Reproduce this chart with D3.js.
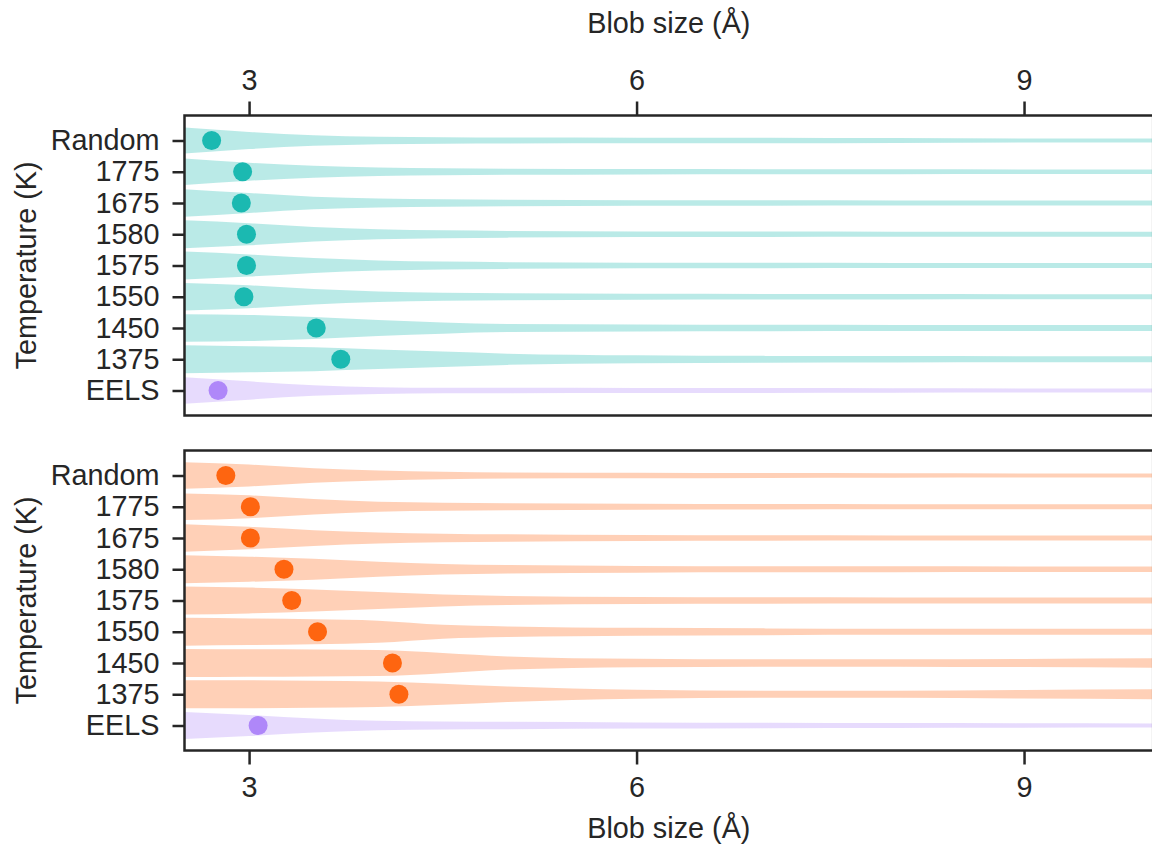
<!DOCTYPE html>
<html>
<head>
<meta charset="utf-8">
<script src="https://cdn.jsdelivr.net/npm/d3@7/dist/d3.min.js"></script>
<style>
  html, body { margin: 0; padding: 0; background: #fff; }
  svg { display: block; font-family: "Liberation Sans", Arial, Helvetica, sans-serif; }
  .tick text { fill: #262626; }
</style>
</head>
<body>
<svg id="chart" width="1152" height="846"></svg>
<script>
// Row labels, top to bottom
const categories = ["Random", "1775", "1675", "1580", "1575", "1550", "1450", "1375", "EELS"];

// Blob-size grid (Å) on which the density profiles are sampled
const sizeGrid = [2.5, 3.0, 3.5, 4.0, 4.5, 5.0, 6.0, 7.0, 8.0, 9.0, 10.0];

// Relative violin half-widths (1 = full slot) per row, upper panel
const densityUpper = [
  [0.93, 0.61, 0.38, 0.26, 0.23, 0.21, 0.20, 0.19, 0.17, 0.15, 0.14],
  [0.95, 0.64, 0.42, 0.30, 0.25, 0.22, 0.19, 0.18, 0.17, 0.16, 0.16],
  [0.98, 0.71, 0.45, 0.32, 0.26, 0.23, 0.20, 0.19, 0.18, 0.17, 0.17],
  [0.99, 0.79, 0.52, 0.36, 0.28, 0.24, 0.20, 0.19, 0.18, 0.17, 0.17],
  [0.99, 0.79, 0.53, 0.36, 0.28, 0.24, 0.20, 0.19, 0.18, 0.17, 0.17],
  [0.98, 0.81, 0.55, 0.38, 0.29, 0.25, 0.21, 0.20, 0.19, 0.18, 0.18],
  [0.98, 0.93, 0.78, 0.57, 0.40, 0.29, 0.25, 0.23, 0.22, 0.22, 0.22],
  [0.99, 0.93, 0.85, 0.70, 0.55, 0.40, 0.28, 0.24, 0.23, 0.22, 0.22],
  [0.94, 0.65, 0.38, 0.24, 0.20, 0.19, 0.18, 0.17, 0.16, 0.15, 0.14]
];

// Relative violin half-widths per row, lower panel
const densityLower = [
  [0.95, 0.78, 0.52, 0.36, 0.26, 0.21, 0.19, 0.17, 0.16, 0.15, 0.15],
  [0.95, 0.81, 0.55, 0.36, 0.29, 0.25, 0.21, 0.19, 0.18, 0.17, 0.17],
  [0.98, 0.80, 0.56, 0.39, 0.31, 0.26, 0.21, 0.19, 0.18, 0.17, 0.17],
  [1.00, 0.89, 0.74, 0.54, 0.38, 0.30, 0.24, 0.22, 0.21, 0.20, 0.20],
  [1.00, 0.92, 0.78, 0.60, 0.42, 0.32, 0.25, 0.23, 0.22, 0.21, 0.21],
  [1.00, 0.95, 0.89, 0.79, 0.50, 0.38, 0.28, 0.24, 0.22, 0.21, 0.21],
  [1.00, 0.98, 0.96, 0.93, 0.72, 0.47, 0.30, 0.26, 0.26, 0.29, 0.33],
  [1.00, 0.99, 0.96, 0.90, 0.75, 0.55, 0.32, 0.25, 0.25, 0.30, 0.35],
  [0.96, 0.75, 0.50, 0.33, 0.28, 0.26, 0.22, 0.19, 0.17, 0.16, 0.15]
];

// Central blob size (Å) marked with a dot on each row
const centersUpper = [2.71, 2.95, 2.94, 2.98, 2.98, 2.96, 3.52, 3.71, 2.76];
const centersLower = [2.82, 3.01, 3.01, 3.27, 3.33, 3.53, 4.11, 4.16, 3.07];

// Axis ticks
const xTicks = [3, 6, 9];
const xLabel = "Blob size (Å)";
const yLabel = "Temperature (K)";

// Colours
const upperColor = "#1bb9b1";
const lowerColor = "#fe6510";
const eelsColor = "#af87f9";
const inkColor = "#262626";

const svg = d3.select("#chart");
const fontSize = 28.8;
const fontFamily = "Liberation Sans, Arial, sans-serif";

const x = d3.scaleLinear().domain([2.5, 10]).range([184.5, 1153.2]);

const panels = [
  { top: 115.5, bottom: 415.5, dens: densityUpper, centers: centersUpper, color: upperColor, topAxis: true },
  { top: 450.5, bottom: 750.5, dens: densityLower, centers: centersLower, color: lowerColor, topAxis: false }
];

panels.forEach((p, pi) => {
  const y = d3.scalePoint().domain(categories).range([p.top + 25, p.bottom - 25]);
  const slot = y.step();
  const halfW = d3.scaleLinear().domain([0, 1]).range([0, slot * 0.45]);

  const g = svg.append("g");

  const clipId = "clip" + pi;
  svg.append("defs").append("clipPath").attr("id", clipId)
    .append("rect")
    .attr("x", x.range()[0]).attr("y", p.top)
    .attr("width", x.range()[1] - x.range()[0]).attr("height", p.bottom - p.top);

  const plot = g.append("g").attr("clip-path", `url(#${clipId})`);

  categories.forEach((cat, i) => {
    const color = cat === "EELS" ? eelsColor : p.color;
    const cy = y(cat);
    const pts = sizeGrid.map((s, k) => ({ s, d: p.dens[i][k] }));
    const area = d3.area()
      .curve(d3.curveMonotoneX)
      .x(d => x(d.s))
      .y0(d => cy - halfW(d.d))
      .y1(d => cy + halfW(d.d));
    plot.append("path")
      .attr("d", area(pts))
      .attr("fill", color)
      .attr("fill-opacity", 0.3);
  });

  plot.selectAll("circle.center")
    .data(categories)
    .join("circle")
    .attr("class", "center")
    .attr("cx", (c, i) => x(p.centers[i]))
    .attr("cy", c => y(c))
    .attr("r", 9.5)
    .attr("fill", c => c === "EELS" ? eelsColor : p.color);

  // Left axis with category labels
  const yAxis = d3.axisLeft(y).tickSize(12).tickPadding(13);
  const ya = g.append("g").attr("transform", `translate(${x.range()[0]},0)`).call(yAxis);
  ya.select(".domain").remove();
  ya.selectAll(".tick line").attr("stroke", inkColor).attr("stroke-width", 2.5);
  ya.selectAll(".tick text").attr("font-size", fontSize).attr("font-family", fontFamily).attr("fill", inkColor);

  // Horizontal axis (top for the upper panel, bottom for the lower one)
  const xAxis = (p.topAxis ? d3.axisTop(x) : d3.axisBottom(x))
    .tickValues(xTicks).tickFormat(d3.format("d")).tickSize(14).tickPadding(12);
  const xa = g.append("g")
    .attr("transform", `translate(0,${p.topAxis ? p.top : p.bottom})`)
    .call(xAxis);
  xa.select(".domain").remove();
  xa.selectAll(".tick line").attr("stroke", inkColor).attr("stroke-width", 2.5);
  xa.selectAll(".tick text").attr("font-size", fontSize).attr("font-family", fontFamily).attr("fill", inkColor);

  // Frame
  g.append("rect")
    .attr("x", x.range()[0]).attr("y", p.top)
    .attr("width", x.range()[1] - x.range()[0]).attr("height", p.bottom - p.top)
    .attr("fill", "none").attr("stroke", inkColor).attr("stroke-width", 2.5);

  // Y title
  g.append("text")
    .attr("transform", `translate(36,${(p.top + p.bottom) / 2}) rotate(-90)`)
    .attr("text-anchor", "middle")
    .attr("font-size", fontSize)
    .attr("fill", inkColor)
    .text(yLabel);
});

// X titles
const xMid = (x.range()[0] + x.range()[1]) / 2;
svg.append("text")
  .attr("x", xMid).attr("y", 33)
  .attr("text-anchor", "middle").attr("font-size", fontSize).attr("fill", inkColor)
  .text(xLabel);
svg.append("text")
  .attr("x", xMid).attr("y", 838)
  .attr("text-anchor", "middle").attr("font-size", fontSize).attr("fill", inkColor)
  .text(xLabel);
</script>
</body>
</html>
